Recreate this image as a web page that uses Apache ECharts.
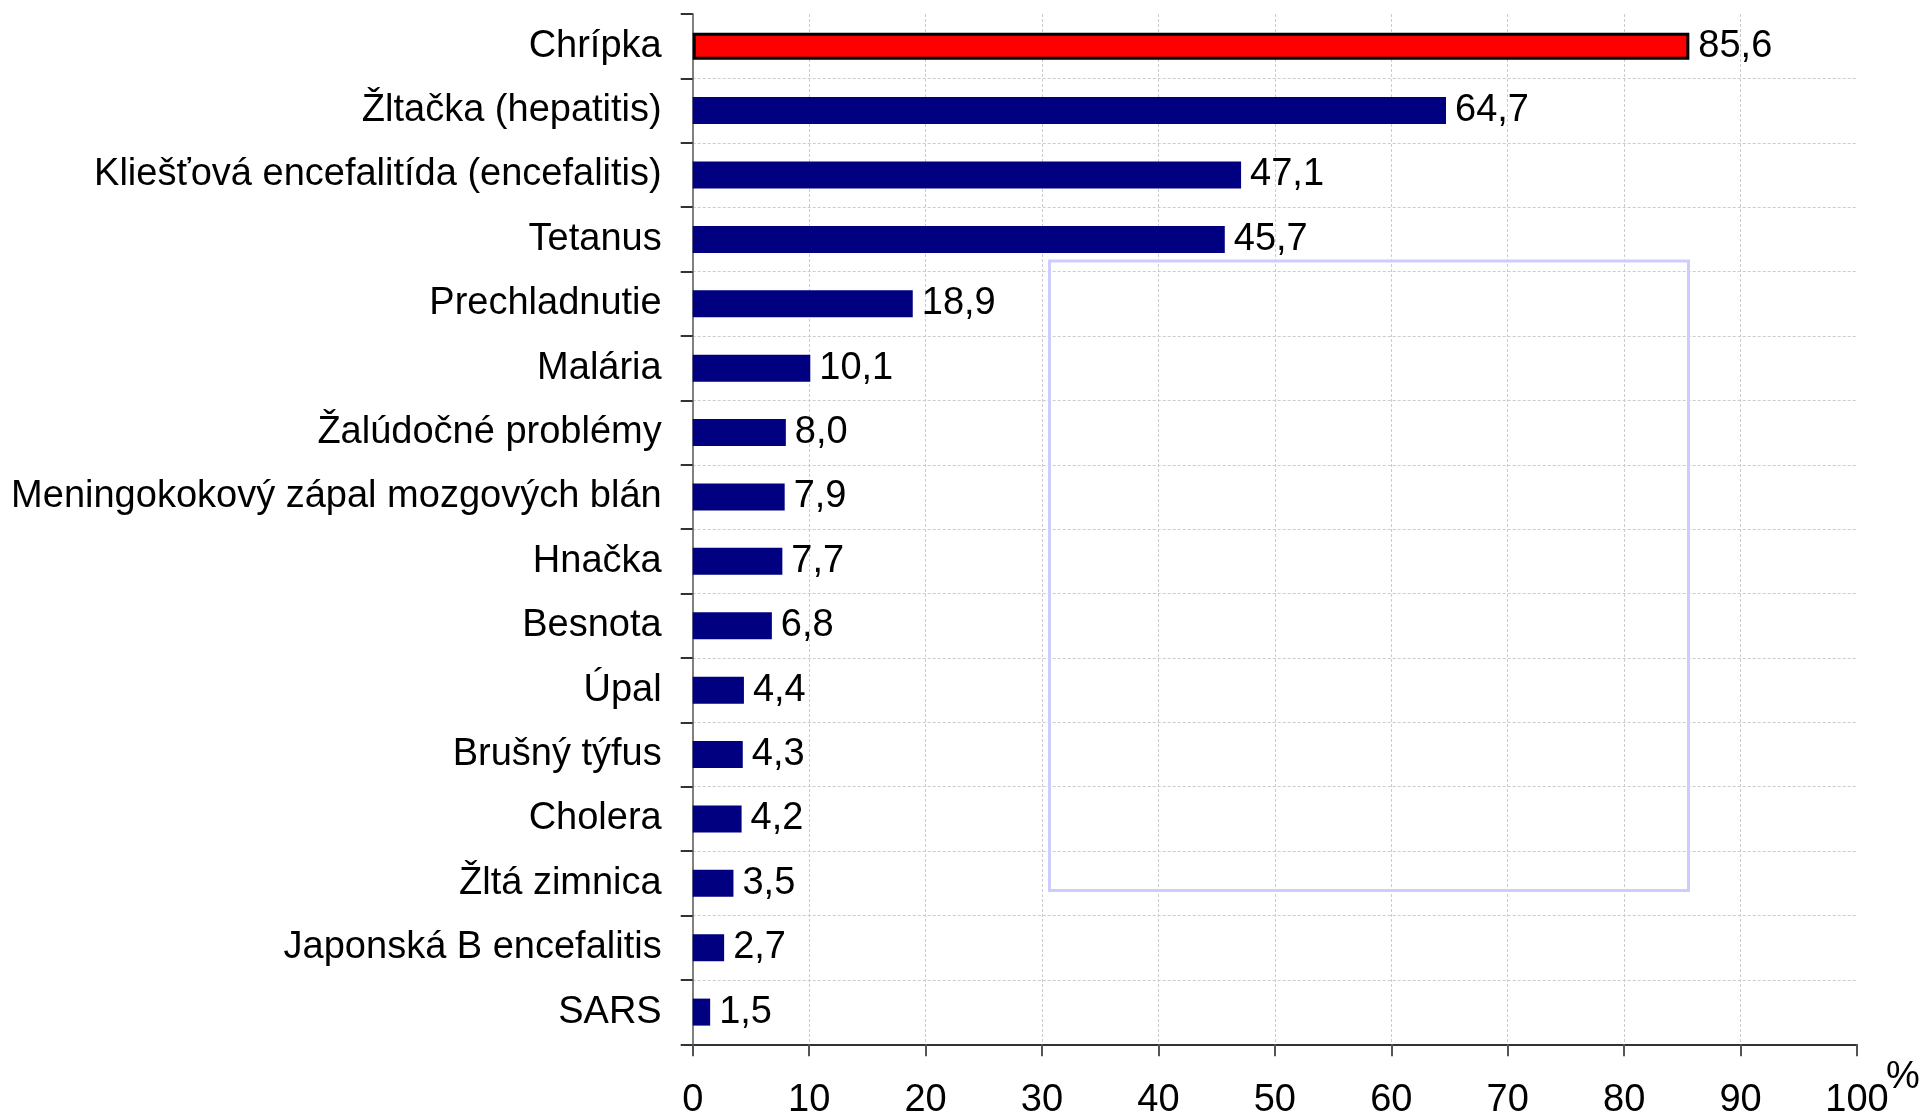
<!DOCTYPE html>
<html>
<head>
<meta charset="utf-8">
<script src="https://cdn.jsdelivr.net/npm/echarts@6/dist/echarts.min.js"></script>
<style>
html,body{margin:0;padding:0;background:#fff;}
#chart{width:1921px;height:1117px;}
</style>
</head>
<body>
<div id="chart"></div>
<script>
var categories = [
  'Chrípka',
  'Žltačka (hepatitis)',
  'Kliešťová encefalitída (encefalitis)',
  'Tetanus',
  'Prechladnutie',
  'Malária',
  'Žalúdočné problémy',
  'Meningokokový zápal mozgových blán',
  'Hnačka',
  'Besnota',
  'Úpal',
  'Brušný týfus',
  'Cholera',
  'Žltá zimnica',
  'Japonská B encefalitis',
  'SARS'
];
var values = [85.6, 64.7, 47.1, 45.7, 18.9, 10.1, 8.0, 7.9, 7.7, 6.8, 4.4, 4.3, 4.2, 3.5, 2.7, 1.5];
var xTicks = [0, 10, 20, 30, 40, 50, 60, 70, 80, 90, 100];
var xUnit = '%';
var highlightIndex = 0;

var FONT = 'Liberation Sans, Arial, sans-serif';
var FS = 38;

var chart = echarts.init(document.getElementById('chart'), null, {renderer: 'canvas'});

var barData = values.map(function (v, i) {
  if (i === highlightIndex) {
    return {value: v, itemStyle: {color: '#ff0000', borderColor: '#000000', borderWidth: 3}};
  }
  return {value: v};
});

var vGridColors = xTicks.map(function (t, i) {
  return i === xTicks.length - 1 ? 'rgba(0,0,0,0)' : '#cccccc';
});

chart.setOption({
  animation: false,
  backgroundColor: '#ffffff',
  grid: {left: 692.7, right: 64, top: 14, bottom: 72.7, containLabel: false, outerBoundsMode: 'none'},
  xAxis: {
    type: 'value',
    min: xTicks[0],
    max: xTicks[xTicks.length - 1],
    interval: 10,
    axisLine: {show: true, lineStyle: {color: '#333333', width: 2}},
    axisTick: {show: true, length: 12, lineStyle: {color: '#555555', width: 2}},
    axisLabel: {fontFamily: FONT, fontSize: FS, color: '#000', margin: 37,
      formatter: function (v) { return String(v); }},
    splitLine: {show: true, showMaxLine: false, lineStyle: {color: vGridColors, width: 1, type: [3, 2]}}
  },
  yAxis: {
    type: 'category',
    data: categories,
    inverse: true,
    boundaryGap: true,
    axisLine: {show: true, lineStyle: {color: '#808080', width: 2}},
    axisTick: {show: true, length: 12, inside: false, lineStyle: {color: '#333333', width: 2}},
    axisLabel: {fontFamily: FONT, fontSize: FS, color: '#000', margin: 31},
    splitLine: {show: true, showMinLine: false, lineStyle: {color: '#cccccc', width: 1, type: [3, 2]}}
  },
  series: [{
    type: 'bar',
    data: barData,
    barWidth: 27,
    itemStyle: {color: '#000080'},
    label: {
      show: true,
      position: 'right',
      distance: 9,
      fontFamily: FONT,
      fontSize: FS,
      color: '#000',
      formatter: function (p) { return p.value.toFixed(1).replace('.', ','); }
    }
  }],
  graphic: [{
    type: 'rect',
    shape: {x: 1049.5, y: 261, width: 639, height: 629.5},
    style: {fill: 'none', stroke: '#ccccff', lineWidth: 3},
    z: 5
  }, {
    type: 'text',
    x: 1886,
    y: 1078,
    style: {text: xUnit, fontFamily: FONT, fontSize: FS, fill: '#000', verticalAlign: 'middle', align: 'left'},
    z: 5
  }]
});
</script>
</body>
</html>
